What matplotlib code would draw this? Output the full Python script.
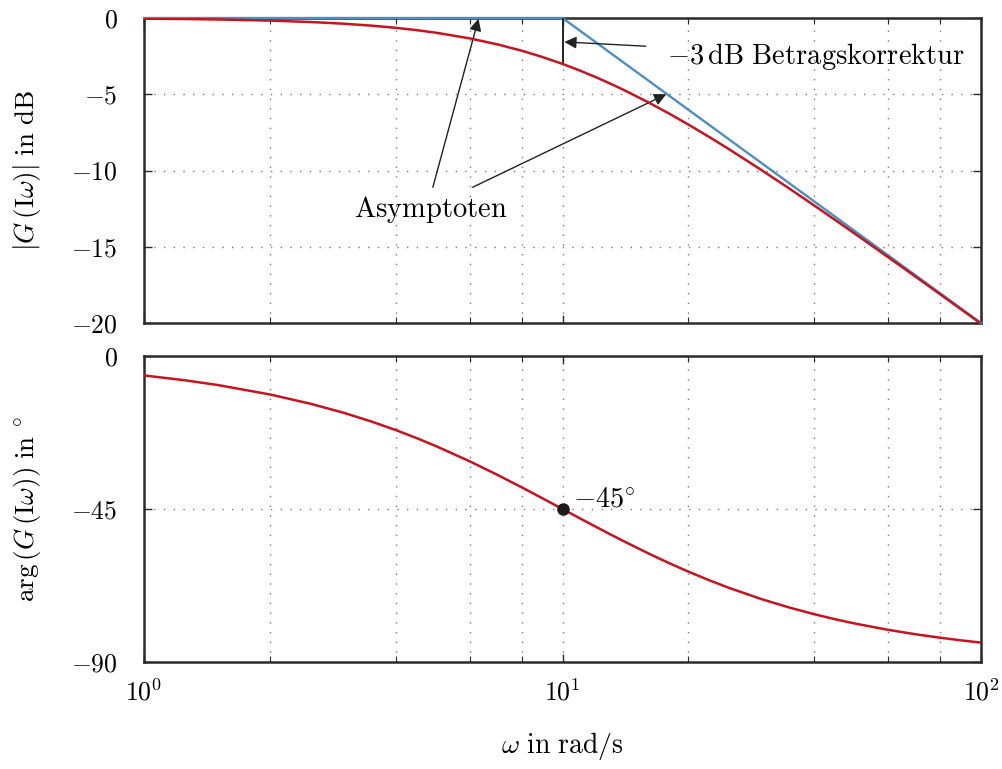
import matplotlib
matplotlib.use("Agg")
import matplotlib.pyplot as plt
from matplotlib.ticker import FixedLocator, FixedFormatter, NullFormatter

plt.rcParams['mathtext.fontset'] = 'cm'
plt.rcParams['font.family'] = 'serif'
plt.rcParams['font.serif'] = ['cmr10', 'DejaVu Serif']
plt.rcParams['axes.unicode_minus'] = False

# ---- data ----
omega = [1, 1.25, 1.5, 2, 2.5, 3, 3.5, 4, 4.5, 5, 6, 7, 8, 9, 10, 11, 12, 13, 14,
         16, 18, 20, 22.5, 25, 30, 35, 40, 45, 50, 60, 70, 80, 90, 100]
mag_db = [-0.043, -0.067, -0.097, -0.170, -0.263, -0.374, -0.502, -0.645, -0.801,
          -0.969, -1.335, -1.732, -2.148, -2.577, -3.010, -3.444, -3.874, -4.298,
          -4.713, -5.515, -6.274, -6.990, -7.827, -8.603, -10.000, -11.222, -12.304,
          -13.274, -14.150, -15.682, -16.990, -18.129, -19.138, -20.043]
phase_deg = [-5.71, -7.13, -8.53, -11.31, -14.04, -16.70, -19.29, -21.80, -24.23,
             -26.57, -30.96, -34.99, -38.66, -41.99, -45.00, -47.73, -50.19, -52.43,
             -54.46, -57.99, -60.95, -63.43, -66.04, -68.20, -71.57, -74.05, -75.96,
             -77.47, -78.69, -80.54, -81.87, -82.87, -83.66, -84.29]
asym_omega = [1, 10, 100]
asym_db = [0, 0, -20]
corr_omega = [10, 10]
corr_db = [0, -3]
mark_omega = [10]
mark_phase = [-45]

mag_ticks = [0, -5, -10, -15, -20]
mag_ticklabels = [r"$0$", r"$-5$", r"$-10$", r"$-15$", r"$-20$"]
phase_ticks = [0, -45, -90]
phase_ticklabels = [r"$0$", r"$-45$", r"$-90$"]
x_major = [1, 10, 100]
x_major_labels = [r"$10^{0}$", r"$10^{1}$", r"$10^{2}$"]
x_minor = [2, 4, 6, 8, 20, 40, 60, 80]

RED = '#c8131f'
BLUE = '#4a8fc2'
GRID = '#7a7a7a'
SPINE = '#2a2a2a'
TICKFS = 18.5
LABFS = 19.5
ANNFS = 20.5

fig = plt.figure(figsize=(10.02, 7.69), dpi=100)
W, H = 1002, 769
ax1 = fig.add_axes([144 / W, 1 - 323 / H, (981 - 144) / W, (323 - 18) / H])
ax2 = fig.add_axes([144 / W, 1 - 662 / H, (981 - 144) / W, (662 - 356) / H])

for ax, ticks, labels in ((ax1, mag_ticks, mag_ticklabels), (ax2, phase_ticks, phase_ticklabels)):
    ax.set_xscale('log')
    ax.set_xlim(1, 100)
    ax.xaxis.set_major_locator(FixedLocator(x_major))
    ax.xaxis.set_minor_locator(FixedLocator(x_minor))
    ax.xaxis.set_minor_formatter(NullFormatter())
    ax.yaxis.set_major_locator(FixedLocator(ticks))
    ax.yaxis.set_major_formatter(FixedFormatter(labels))
    for x in x_minor + [10]:
        ax.axvline(x, color=GRID, lw=1.0, linestyle=(0, (1, 6)), zorder=0.5)
    for y in ticks[1:-1]:
        ax.axhline(y, color=GRID, lw=1.0, linestyle=(0, (1, 6)), zorder=0.5)
    ax.tick_params(which='both', direction='in', top=True, right=True, color=SPINE)
    ax.tick_params(which='major', length=6, width=1.0, labelsize=TICKFS)
    ax.tick_params(which='minor', length=4, width=0.8)
    ax.tick_params(axis='y', pad=19)
    for s in ax.spines.values():
        s.set_linewidth(1.8)
        s.set_color(SPINE)

ax1.set_ylim(-20, 0)
ax2.set_ylim(-90, 0)
ax1.xaxis.set_major_formatter(NullFormatter())
ax2.xaxis.set_major_formatter(FixedFormatter(x_major_labels))
ax2.tick_params(axis='x', pad=12)

# magnitude
ax1.plot(asym_omega, asym_db, color=BLUE, lw=1.7, zorder=3, clip_on=False)
ax1.plot(omega, mag_db, color=RED, lw=1.8, zorder=4)
ax1.plot(corr_omega, corr_db, color='#222222', lw=1.4, zorder=3)

arrow = dict(arrowstyle='-|>', color='#222222', lw=1.0, mutation_scale=18,
             shrinkA=0, shrinkB=0)
ax1.annotate('', xy=(10.1, -1.57), xytext=(15.8, -1.85), arrowprops=arrow)
ax1.text(17.8, -3.0, r"$-3\,\mathrm{dB\ Betragskorrektur}$", fontsize=ANNFS,
         ha='left', va='baseline')
ax1.annotate('', xy=(6.3, -0.05), xytext=(4.9, -11.1), arrowprops=arrow)
ax1.annotate('', xy=(17.7, -5.0), xytext=(6.1, -11.1), arrowprops=arrow)
ax1.text(4.85, -13.05, r"$\mathrm{Asymptoten}$", fontsize=ANNFS, ha='center',
         va='baseline')

ax1.set_ylabel(r"$|G\,(\mathrm{I}\omega)|\ \mathrm{in\ dB}$", fontsize=LABFS)
ax1.yaxis.set_label_coords(-0.121, 0.5)

# phase
ax2.plot(omega, phase_deg, color=RED, lw=1.8, zorder=4)
ax2.plot(mark_omega, mark_phase, 'o', color='#1a1a1a', ms=8, zorder=5)
ax2.text(10.6, -44.3, r"$-45^{\circ}$", fontsize=ANNFS, ha='left', va='baseline')
ax2.set_ylabel(r"$\mathrm{arg}\,(G\,(\mathrm{I}\omega))\ \mathrm{in}\ ^{\circ}$",
               fontsize=LABFS)
ax2.yaxis.set_label_coords(-0.121, 0.5)
ax2.set_xlabel(r"$\omega\ \mathrm{in\ rad/s}$", fontsize=LABFS + 0.5, labelpad=18)

fig.savefig('out.png', dpi=100)
